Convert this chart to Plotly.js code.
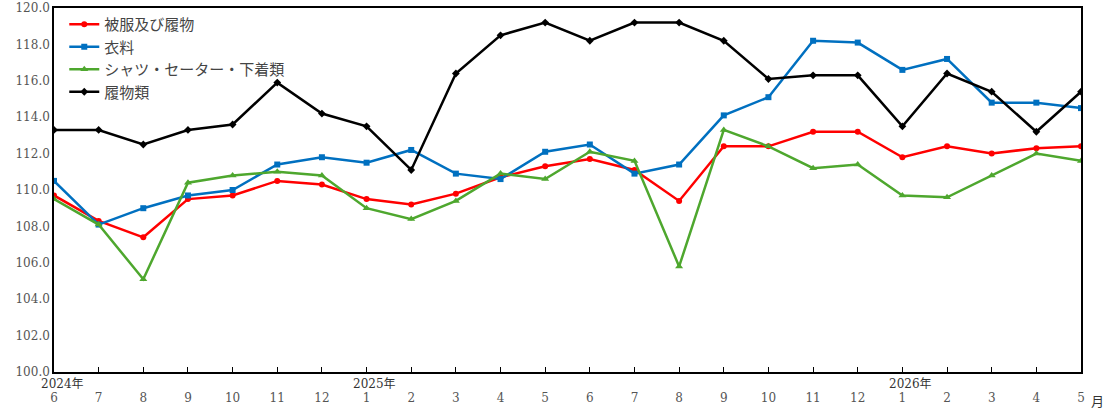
<!DOCTYPE html>
<html><head><meta charset="utf-8">
<script src="https://cdn.plot.ly/plotly-3.0.1.min.js"></script>
<style>body{margin:0;background:#fff}</style>
</head><body>
<div id="chart" style="width:1106px;height:412px"></div>
<script>
var months = ["6","7","8","9","10","11","12","1","2","3","4","5","6","7","8","9","10","11","12","1","2","3","4","5"];
var years = [{i: 0, label: "2024年"}, {i: 7, label: "2025年"}, {i: 19, label: "2026年"}];
var clothingFootwear = [109.7,108.3,107.4,109.5,109.7,110.5,110.3,109.5,109.2,109.8,110.7,111.3,111.7,111.1,109.4,112.4,112.4,113.2,113.2,111.8,112.4,112.0,112.3,112.4];
var clothing = [110.5,108.1,109.0,109.7,110.0,111.4,111.8,111.5,112.2,110.9,110.6,112.1,112.5,110.9,111.4,114.1,115.1,118.2,118.1,116.6,117.2,114.8,114.8,114.5];
var shirtsUnderwear = [109.5,108.1,105.1,110.4,110.8,111.0,110.8,109.0,108.4,109.4,110.9,110.6,112.1,111.6,105.8,113.3,112.4,111.2,111.4,109.7,109.6,110.8,112.0,111.6];
var footwear = [113.3,113.3,112.5,113.3,113.6,115.9,114.2,113.5,111.1,116.4,118.5,119.2,118.2,119.2,119.2,118.2,116.1,116.3,116.3,113.5,116.4,115.4,113.2,115.4];

var xs = months.map(function(m, i) { return i; });

function series(name, y, color, symbol, size) {
  return { type: "scatter", mode: "lines+markers", name: name, x: xs, y: y,
    line: { color: color, width: 2.5 }, marker: { color: color, symbol: symbol, size: size } };
}

var traces = [
  series("被服及び履物", clothingFootwear, "#ff0000", "circle", 6),
  series("衣料", clothing, "#0070c0", "square", 6),
  series("シャツ・セーター・下着類", shirtsUnderwear, "#4ea72e", "triangle-up", 7),
  series("履物類", footwear, "#000000", "diamond", 6)
];

var annotations = years.map(function(y) {
  return { x: y.i, y: 0, xref: "x", yref: "paper", yanchor: "top", xshift: 8, yshift: -3, text: y.label, showarrow: false,
    font: { family: "DejaVu Serif, Noto Sans CJK JP", size: 12, color: "#333" } };
});
annotations.push({ x: 1, y: 0, xref: "paper", yref: "paper", xanchor: "left", yanchor: "top", xshift: 8, yshift: -17,
  text: "月", showarrow: false, font: { family: "Noto Sans CJK JP", size: 13, color: "#333" } });

var layout = {
  width: 1106, height: 412,
  margin: { l: 54, r: 25, t: 8, b: 40 },
  paper_bgcolor: "#fff", plot_bgcolor: "#fff",
  showlegend: true,
  legend: { x: 0.01, y: 1, xanchor: "left", yanchor: "top", bgcolor: "rgba(0,0,0,0)",
    font: { family: "Noto Sans CJK JP", size: 15, color: "#444" }, tracegroupgap: 0 },
  xaxis: { range: [0, 23], tickmode: "array", tickvals: xs, ticktext: months,
    showgrid: false, zeroline: false, showline: true, linecolor: "#000", linewidth: 1.5, mirror: true,
    ticks: "inside", ticklen: 5, tickcolor: "#000", ticklabelstandoff: 14,
    tickfont: { family: "DejaVu Serif", size: 12, color: "#555" } },
  yaxis: { range: [100, 120], dtick: 2, tickformat: ".1f", showgrid: false, zeroline: false,
    showline: true, linecolor: "#000", linewidth: 1.5, mirror: true, ticks: "",
    tickfont: { family: "DejaVu Serif", size: 12, color: "#555" } },
  annotations: annotations
};

Plotly.newPlot("chart", traces, layout, { displayModeBar: false });
</script>
</body></html>
